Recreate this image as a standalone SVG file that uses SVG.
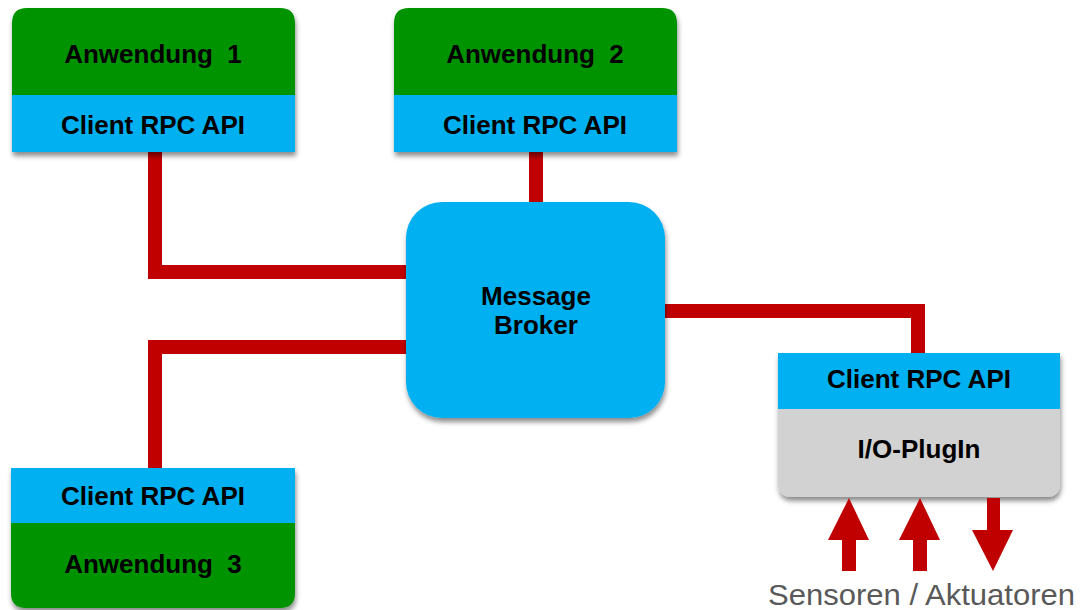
<svg xmlns="http://www.w3.org/2000/svg" width="1082" height="610" viewBox="0 0 1082 610">
<defs>
<style>
.t{font-family:"Liberation Sans",Arial,sans-serif;font-weight:bold;font-size:26px;fill:#000;text-anchor:middle;white-space:pre}
.g{fill:#009300}
.b{fill:#00B0F0}
.s{fill:#D2D2D2}
.c{fill:none;stroke:#C00000;stroke-width:14}
.a{fill:#C00000}
</style>
<filter id="sh" x="-10%" y="-10%" width="120%" height="130%">
<feDropShadow dx="1" dy="4" stdDeviation="2.5" flood-color="#000" flood-opacity="0.45"/>
</filter>
</defs>
<g id="connectors">
<polyline class="c" points="155,150 155,272 410,272"/>
<polyline class="c" points="536,150 536,205"/>
<polyline class="c" points="155,470 155,347 410,347"/>
<polyline class="c" points="662,311 918,311 918,355"/>
</g>
<g id="app1">
<g filter="url(#sh)">
<path class="g" d="M12,96 V23 Q12,8 27,8 H280 Q295,8 295,23 V96 Z"/>
<rect class="b" x="12" y="95" width="283" height="57"/>
</g>
<text class="t" x="153" y="63">Anwendung  1</text>
<text class="t" x="153" y="134">Client RPC API</text>
</g>
<g id="app2">
<g filter="url(#sh)">
<path class="g" d="M394,96 V23 Q394,8 409,8 H662 Q677,8 677,23 V96 Z"/>
<rect class="b" x="394" y="95" width="283" height="57"/>
</g>
<text class="t" x="535" y="63">Anwendung  2</text>
<text class="t" x="535" y="134">Client RPC API</text>
</g>
<g id="app3">
<g filter="url(#sh)">
<rect class="b" x="11" y="468" width="284" height="56"/>
<path class="g" d="M11,523 V593 Q11,608 26,608 H280 Q295,608 295,593 V523 Z"/>
</g>
<text class="t" x="153" y="505">Client RPC API</text>
<text class="t" x="153" y="573">Anwendung  3</text>
</g>
<g id="broker">
<rect class="b" x="406" y="202" width="259" height="216" rx="36" ry="36" filter="url(#sh)"/>
<text class="t" x="536" y="305">Message</text>
<text class="t" x="536" y="334">Broker</text>
</g>
<g id="ioplugin">
<g filter="url(#sh)">
<rect class="b" x="778" y="353" width="282" height="57"/>
<path class="s" d="M778,409 V483 Q778,497 792,497 H1046 Q1060,497 1060,483 V409 Z"/>
</g>
<text class="t" x="919" y="388">Client RPC API</text>
<text class="t" x="919" y="458">I/O-PlugIn</text>
</g>
<g id="io-arrows">
<polygon class="a" points="849,498 869,540 856,540 856,571 842,571 842,540 828,540"/>
<polygon class="a" points="920,498 940,540 927,540 927,571 913,571 913,540 899,540"/>
<polygon class="a" points="987,498 1000,498 1000,530 1013,530 993,571 972,530 987,530"/>
<text x="768" y="605" textLength="307" lengthAdjust="spacingAndGlyphs" style="font-family:'Liberation Sans',Arial,sans-serif;font-size:29px;fill:#595959">Sensoren / Aktuatoren</text>
</g>
</svg>
